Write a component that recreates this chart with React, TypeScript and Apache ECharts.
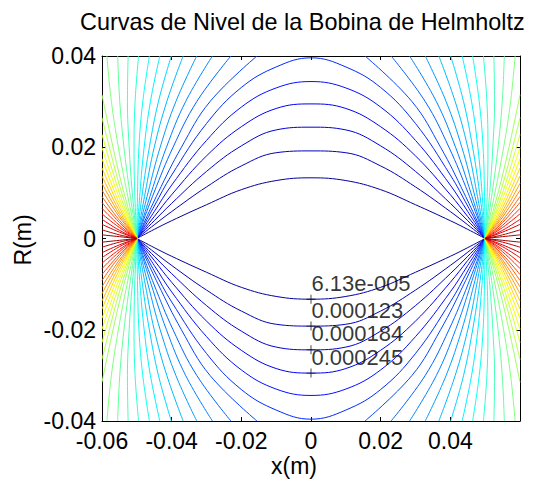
import React, { useEffect, useRef } from "react";
import * as echarts from "echarts";

// ---- data (upper-left quadrant; mirrored to the other quadrants) ----
const TITLE = "Curvas de Nivel de la Bobina de Helmholtz";
const X_NAME = "x(m)";
const Y_NAME = "R(m)";
const CUSP = [-0.05, 0];

// arches between the two coils (levels 1-6): points from the left cusp to x = 0
const ARCH_1 = [[-0.05, 0], [-0.045, 0.002], [-0.04, 0.0039], [-0.03, 0.0074], [-0.02, 0.0107], [-0.01, 0.0127], [0, 0.0133]];
const ARCH_2 = [[-0.05, 0], [-0.045, 0.003], [-0.04, 0.0059], [-0.03, 0.0113], [-0.02, 0.0159], [-0.01, 0.0188], [0, 0.0192]];
const ARCH_3 = [[-0.05, 0], [-0.045, 0.0039], [-0.04, 0.0077], [-0.03, 0.0147], [-0.02, 0.0203], [-0.01, 0.0238], [0, 0.0244]];
const ARCH_4 = [[-0.05, 0], [-0.045, 0.0048], [-0.04, 0.0096], [-0.03, 0.0181], [-0.02, 0.0245], [-0.01, 0.0285], [0, 0.0295]];
const ARCH_5 = [[-0.05, 0], [-0.045, 0.0059], [-0.04, 0.0117], [-0.03, 0.0215], [-0.02, 0.0288], [-0.01, 0.033], [0, 0.0344]];
const ARCH_6 = [[-0.05, 0], [-0.045, 0.0071], [-0.04, 0.0139], [-0.03, 0.0252], [-0.02, 0.0331], [-0.01, 0.0376], [0, 0.0396]];

// lines from the cusp to the top edge (levels 7-18): x at R = 0.01, 0.02, 0.03, 0.04 (top edge)
const TOP_X_R10 = [-0.0439, -0.0451, -0.0459, -0.0468, -0.0476, -0.0484, -0.0491, -0.0498, -0.0506, -0.0513, -0.052, -0.0528];
const TOP_X_R20 = [-0.0372, -0.0396, -0.0415, -0.0433, -0.045, -0.0464, -0.0479, -0.0494, -0.0508, -0.0522, -0.0537, -0.0553];
const TOP_X_R30 = [-0.029, -0.0328, -0.036, -0.0388, -0.0414, -0.0438, -0.0461, -0.0483, -0.0505, -0.0527, -0.0549, -0.0573];
const TOP_X_R40 = [-0.0155, -0.023, -0.0283, -0.0328, -0.0367, -0.0401, -0.0434, -0.0464, -0.0495, -0.0525, -0.0555, -0.0586];

// lines from the cusp to the left edge (levels 19-35): R at x = -0.055 and at the left edge (x = -0.06)
const LEFT_MID_R = [0.0139, 0.0117, 0.01, 0.0088, 0.0077, 0.0068, 0.006, 0.0053, 0.0047, 0.004, 0.0035, 0.0029, 0.0024, 0.0018, 0.0014, 0.0008, 0.0004];
const LEFT_END_R = [0.0315, 0.0265, 0.0228, 0.0199, 0.0175, 0.0155, 0.0137, 0.0121, 0.0106, 0.0092, 0.0079, 0.0066, 0.0054, 0.0042, 0.0031, 0.0019, 0.0008];

const LEVEL_LABELS = ["6.13e-005", "0.000123", "0.000184", "0.000245"];

const FONT = "Liberation Sans, Arial, Helvetica, sans-serif";

function jet(t: number): string {
  const c = (v: number) => Math.round(255 * Math.max(0, Math.min(1, v)));
  const r = c(1.5 - Math.abs(4 * t - 3));
  const g = c(1.5 - Math.abs(4 * t - 2));
  const b = c(1.5 - Math.abs(4 * t - 1));
  return `rgb(${r},${g},${b})`;
}

type Piece = number[][];
// each level: the pieces drawn in the upper half (x < 0 side plus its mirror image)
function buildLevels(): Piece[][] {
  const levels: Piece[][] = [];
  [ARCH_1, ARCH_2, ARCH_3, ARCH_4, ARCH_5, ARCH_6].forEach((half) => {
    const right = half
      .slice(0, -1)
      .reverse()
      .map(([x, r]) => [-x, r]);
    levels.push([[...half, ...right]]);
  });
  TOP_X_R40.forEach((xe, i) => {
    const p: Piece = [CUSP, [TOP_X_R10[i], 0.01], [TOP_X_R20[i], 0.02], [TOP_X_R30[i], 0.03], [xe, 0.04]];
    levels.push([p, p.map(([x, r]) => [-x, r])]);
  });
  LEFT_END_R.forEach((re, i) => {
    const p: Piece = [CUSP, [-0.055, LEFT_MID_R[i]], [-0.06, re]];
    levels.push([p, p.map(([x, r]) => [-x, r])]);
  });
  return levels;
}

export default function App() {
  const ref = useRef<HTMLDivElement>(null);
  useEffect(() => {
    if (!ref.current) return;
    const chart = echarts.init(ref.current, undefined, { renderer: "svg" });
    const levels = buildLevels();
    const n = levels.length;
    const series: any[] = [];
    levels.forEach((pieces, k) => {
      const color = jet((k + 1) / (n + 1));
      pieces.forEach((pts) => {
        [1, -1].forEach((sy) => {
          series.push({
            type: "line",
            data: pts.map(([x, r]) => [x, sy * r]),
            showSymbol: false,
            smooth: 0.4,
            silent: true,
            lineStyle: { color, width: 1 },
            clip: true,
            z: 2,
          });
        });
      });
    });
    const arches = [ARCH_1, ARCH_2, ARCH_3, ARCH_4];
    series.push({
      type: "scatter",
      data: arches.map((a, i) => ({ value: [0, -a[a.length - 1][1]], name: LEVEL_LABELS[i] })),
      symbol: "path://M-0.5,-5H0.5V5H-0.5Z M-5,-0.5H5V0.5H-5Z",
      symbolSize: 9,
      itemStyle: { color: "#000" },
      silent: true,
      z: 5,
      label: {
        show: true,
        position: "right",
        distance: 5,
        offset: [-9, -16],
        formatter: (p: any) => p.name,
        fontSize: 22,
        lineHeight: 20,
        fontFamily: FONT,
        color: "#000",
      },
    });

    const axisCommon = {
      type: "value" as const,
      axisLine: { show: true, onZero: false, lineStyle: { color: "#000", width: 1 } },
      axisTick: { show: true, inside: true, length: 4, lineStyle: { color: "#000" } },
      splitLine: { show: false },
    };
    const fmt = (v: number) => String(Math.round(v * 100) / 100);

    chart.setOption({
      animation: false,
      backgroundColor: "#fff",
      title: {
        text: TITLE,
        left: 75,
        top: 5,
        textStyle: { fontSize: 23.4, fontWeight: "normal", fontFamily: FONT, color: "#000" },
      },
      grid: { left: 102, right: 30, top: 56, bottom: 59 },
      xAxis: [
        {
          ...axisCommon,
          position: "bottom",
          min: -0.06,
          max: 0.06,
          interval: 0.02,
          axisLabel: { showMaxLabel: false, fontSize: 23, fontFamily: FONT, color: "#000", margin: 8, formatter: fmt },
        },
        { ...axisCommon, position: "top", min: -0.06, max: 0.06, interval: 0.02, axisLabel: { show: false } },
      ],
      yAxis: [
        {
          ...axisCommon,
          position: "left",
          min: -0.04,
          max: 0.04,
          interval: 0.02,
          axisLabel: { fontSize: 23, fontFamily: FONT, color: "#000", margin: 6, formatter: fmt },
        },
        { ...axisCommon, position: "right", min: -0.04, max: 0.04, interval: 0.02, axisLabel: { show: false } },
      ],
      graphic: [
        {
          type: "text",
          x: 294,
          y: 466,
          style: { text: X_NAME, fontSize: 23, fontFamily: FONT, fill: "#000", align: "center", verticalAlign: "middle" },
        },
        {
          type: "text",
          x: 23,
          y: 240,
          rotation: Math.PI / 2,
          style: { text: Y_NAME, fontSize: 23, fontFamily: FONT, fill: "#000", align: "center", verticalAlign: "middle" },
        },
      ],
      series,
    });
    return () => chart.dispose();
  }, []);
  return <div ref={ref} style={{ position: "fixed", left: 0, top: 0, width: 550, height: 480 }} />;
}
